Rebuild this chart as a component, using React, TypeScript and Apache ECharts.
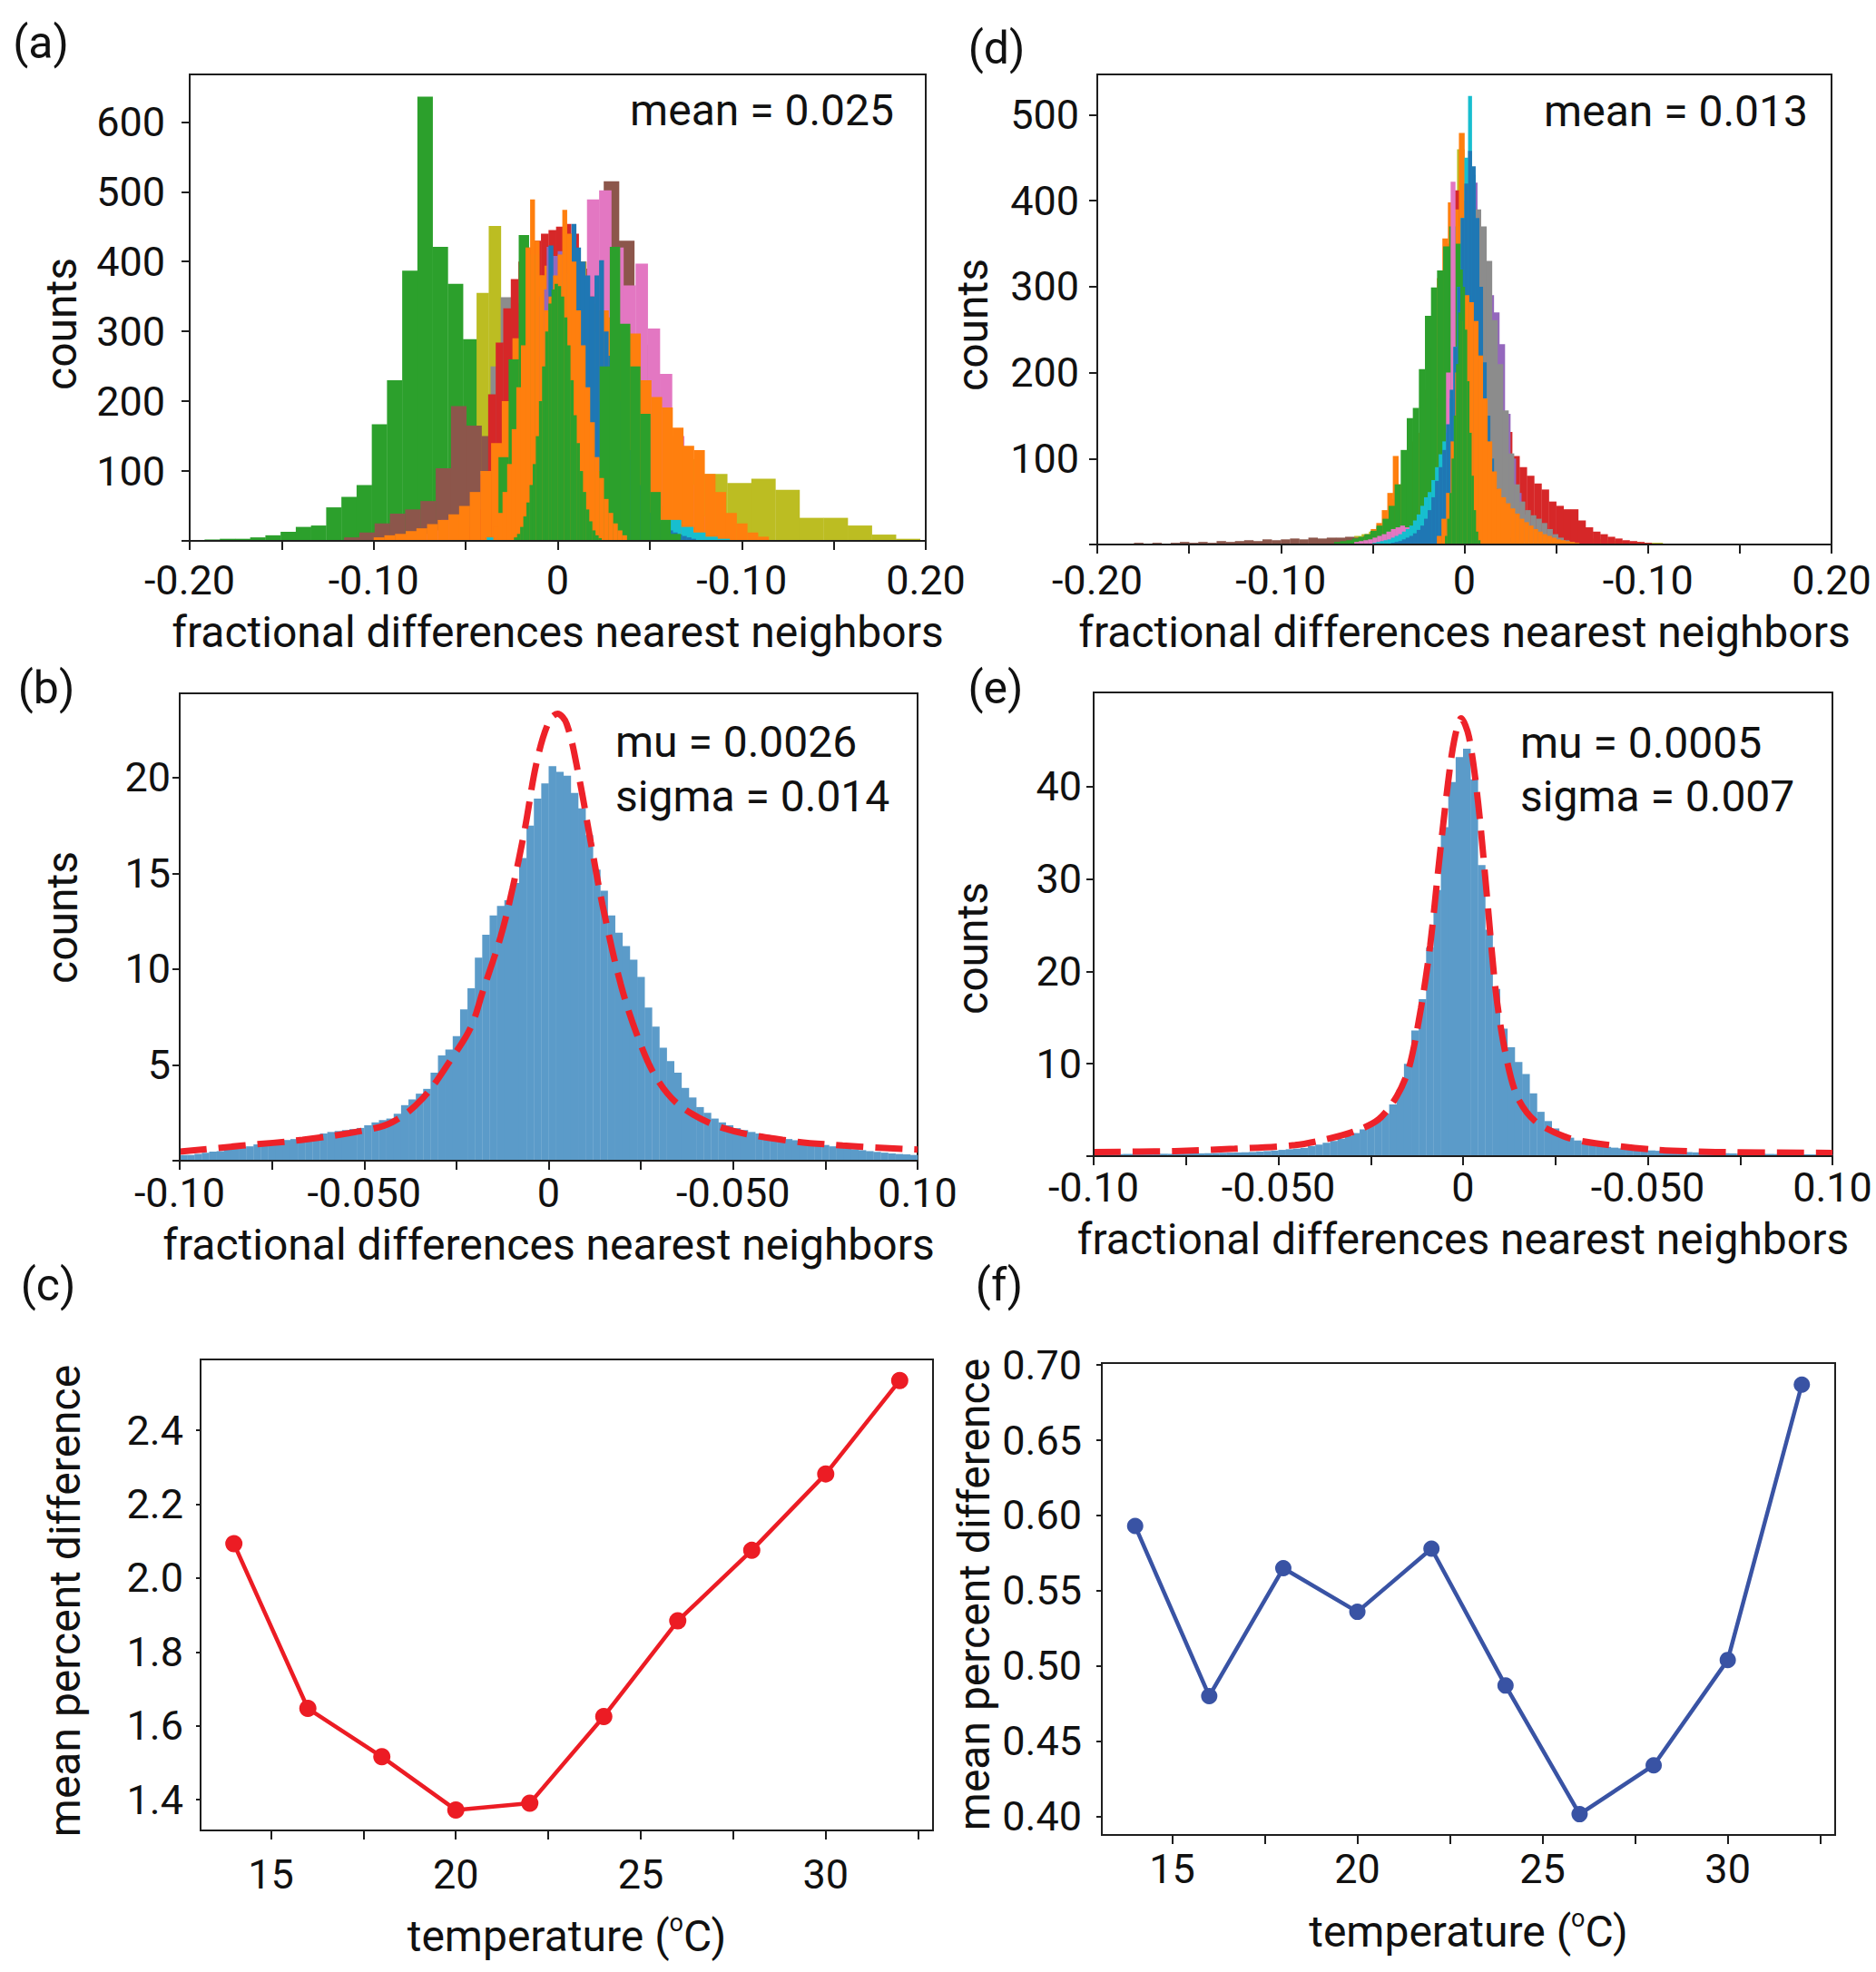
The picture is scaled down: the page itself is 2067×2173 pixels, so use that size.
import { useEffect, useRef } from 'react';
import * as echarts from 'echarts';

const FONT = 'Roboto, "Open Sans", sans-serif';
const INK = '#111111';
const SPINE = '#1e1e1e';

// matplotlib tab10-like colours
const TAB = {
  blue: '#1f77b4',
  orange: '#ff7f0e',
  green: '#2ca02c',
  red: '#d62728',
  purple: '#9467bd',
  brown: '#8c564b',
  pink: '#e377c2',
  gray: '#8c8c8c',
  olive: '#bcbd22',
  cyan: '#17becf',
};

// ---------- panel (a): overlapping histograms (bin start, bin width, counts) ----------
const aOliveWide = { start: -0.052, width: 0.0131, counts: [30, 80, 150, 200, 220, 210, 180, 150, 125, 117, 96, 83, 89, 73, 33, 33, 22, 9, 3] };
const aGreenWide = { start: -0.1919, width: 0.00826, counts: [2, 3, 3, 5, 8, 13, 20, 22, 48, 63, 80, 167, 230, 387, 636, 421, 368, 289, 200, 150, 110, 70, 40, 20, 10] };
const aOliveLeft = { start: -0.0507, width: 0.0066, counts: [60, 355, 451, 250, 200, 150, 100, 60, 30, 10] };
const aBrown = { start: -0.1161, width: 0.0083, counts: [5, 12, 25, 39, 45, 57, 104, 193, 165, 150, 170, 210, 260, 320, 360, 390, 400, 515, 430, 281, 160, 80, 40, 15, 5] };
const aPink = { start: -0.0831, width: 0.0066, counts: [5, 10, 15, 30, 20, 12, 20, 40, 70, 110, 150, 200, 250, 280, 300, 489, 502, 420, 366, 397, 304, 239, 150, 80, 35, 12] };
const aGray = { start: -0.0585, width: 0.0055, counts: [5, 15, 40, 100, 250, 349, 340, 330, 320, 320, 330, 340, 330, 320, 300, 264, 219, 161, 120, 80, 50, 30, 15, 8] };
const aRed = { start: -0.0501, width: 0.0041, counts: [20, 45, 95, 210, 284, 333, 375, 400, 420, 430, 440, 445, 450, 454, 440, 400, 350, 300, 240, 180, 130, 90, 60, 35, 20, 10] };
const aOrangeWide = { start: -0.1, width: 0.0058, counts: [5, 8, 10, 14, 18, 24, 30, 38, 50, 70, 100, 140, 200, 290, 402, 380, 394, 390, 370, 350, 340, 330, 320, 310, 297, 230, 206, 191, 162, 136, 130, 96, 70, 40, 25, 12, 6] };
const aOliveMid = { start: -0.0177, width: 0.0066, counts: [250, 319, 300, 260, 400, 300, 200, 128, 80, 50, 25, 10] };
const aPurple = { start: -0.03, width: 0.003, counts: [20, 60, 120, 200, 280, 372, 350, 360, 421, 408, 415, 383, 350, 300, 250, 190, 130, 80, 40, 20] };
const aCyan = { start: -0.0386, width: 0.0066, counts: [5, 10, 20, 40, 80, 150, 372, 330, 250, 200, 150, 100, 60, 40, 30, 30, 20, 12, 6, 3] };
const aBlue = { start: -0.02, width: 0.0025, counts: [5, 15, 40, 90, 150, 220, 423, 300, 320, 360, 400, 454, 420, 400, 380, 350, 380, 402, 300, 265, 240, 200, 165, 130, 100, 80, 62, 50, 40, 32, 25, 20, 15, 12, 9, 7, 5, 3] };
const aGreenMid = { start: -0.0322, width: 0.0055, counts: [120, 260, 438, 410, 200, 150, 120, 100, 90, 100, 250, 421, 311, 250, 182, 70, 30, 10] };
const aOrangeNarrow = { start: -0.035, width: 0.0025, counts: [20, 40, 70, 110, 160, 220, 280, 420, 489, 430, 380, 330, 350, 380, 410, 474, 440, 400, 330, 280, 220, 170, 120, 90, 60, 40, 25, 15, 8] };
const aGreenNarrow = { start: -0.0238, width: 0.0017, counts: [5, 10, 20, 35, 55, 80, 110, 150, 200, 250, 300, 340, 360, 368, 365, 350, 320, 280, 230, 180, 140, 100, 70, 45, 28, 15, 8, 4] };

// ---------- panel (d) ----------
const dOlive = { start: -0.08, width: 0.004, counts: [3, 4, 5, 6, 8, 10, 12, 15, 20, 30, 53, 45, 40, 50, 70, 100, 150, 230, 330, 460, 300, 180, 110, 70, 45, 30, 25, 20, 18, 16, 15, 14, 13, 12, 10, 9, 8, 7, 6, 5, 4, 4, 3, 3, 2, 2, 2, 1, 1, 1, 1, 1, 1, 1, 1, 1, 1, 1] };
const dBrown = { start: -0.19, width: 0.005, counts: [1, 1, 2, 1, 2, 1, 2, 3, 2, 3, 2, 4, 3, 4, 5, 4, 6, 5, 6, 7, 6, 8, 7, 8, 8, 9, 8, 10, 9, 10, 10, 9, 8, 7, 6, 5, 4, 3, 2, 1] };
const dRed = { start: -0.062, width: 0.004, counts: [3, 4, 5, 7, 10, 14, 20, 30, 45, 70, 110, 170, 260, 350, 412, 400, 360, 300, 240, 190, 150, 131, 103, 90, 80, 71, 64, 50, 45, 41, 41, 28, 20, 15, 12, 9, 7, 5, 4, 3, 2] };
const dPurple = { start: -0.02, width: 0.003, counts: [20, 50, 100, 170, 250, 320, 380, 400, 421, 356, 320, 290, 270, 233, 152, 100, 60, 35, 20, 10, 5] };
const dGray = { start: -0.03, width: 0.003, counts: [10, 20, 40, 70, 110, 160, 220, 290, 340, 370, 390, 394, 390, 370, 330, 261, 210, 156, 106, 70, 50, 40, 34, 30, 25, 18, 12, 8, 5, 3] };
const dOrangeLeft = { start: -0.06, width: 0.003, counts: [5, 8, 12, 18, 25, 40, 60, 103, 70, 90, 120, 130, 180, 230, 280, 310, 356, 398, 390, 479, 300, 200, 150, 110, 80, 55, 35, 20, 10, 5] };
const dGreenWide = { start: -0.071, width: 0.0033, counts: [3, 4, 5, 7, 9, 12, 16, 22, 30, 45, 70, 110, 147, 159, 204, 266, 299, 319, 347, 370, 350, 250, 120, 50, 20, 8, 3] };
const dPink = { start: -0.06, width: 0.0025, counts: [3, 4, 5, 6, 8, 10, 12, 15, 18, 20, 22, 20, 18, 22, 25, 30, 35, 40, 50, 100, 200, 422, 150, 90, 60, 35, 20, 10, 6, 3, 2] };
const dCyan = { start: -0.05, width: 0.002, counts: [2, 3, 4, 5, 6, 8, 10, 12, 15, 18, 22, 28, 35, 45, 55, 61, 75, 90, 105, 120, 130, 170, 230, 300, 380, 450, 522, 430, 340, 250, 180, 120, 80, 50, 30, 18, 10, 5, 3] };
const dBlue = { start: -0.04, width: 0.002, counts: [2, 3, 4, 6, 8, 10, 13, 17, 22, 30, 40, 55, 74, 90, 110, 140, 180, 230, 300, 380, 420, 458, 440, 380, 300, 212, 150, 100, 65, 40, 25, 15, 8, 4, 2] };
const dOrangeRight = { start: -0.015, width: 0.0025, counts: [10, 30, 60, 120, 200, 260, 290, 282, 260, 220, 170, 120, 85, 65, 55, 48, 42, 36, 30, 26, 22, 18, 15, 12, 10, 8, 6, 5, 4, 3, 2] };
const dGreenNarrow = { start: -0.0106, width: 0.0012, counts: [10, 30, 60, 100, 150, 210, 270, 320, 300, 250, 190, 130, 80, 40, 15, 5] };

// ---------- panel (b) and (e): pooled histograms with fitted curves ----------
const bHist = {
  start: -0.1,
  width: 0.002,
  counts: [
    0.3, 0.3, 0.35, 0.42, 0.47, 0.5, 0.58, 0.62, 0.69, 0.75,
    0.85, 0.92, 0.99, 1.02, 1.08, 1.13, 1.17, 1.22, 1.32, 1.42,
    1.5, 1.55, 1.6, 1.65, 1.71, 1.85, 2.0, 2.12, 2.2, 2.45,
    2.9, 3.2, 3.5, 3.75, 4.6, 5.5, 5.8, 6.5, 7.9, 9.0,
    10.6, 11.8, 12.8, 13.3, 13.6, 14.5, 15.8, 17.5, 18.9, 19.7,
    20.6, 20.3, 20.1, 19.2, 18.4, 17.0, 15.2, 14.1, 12.8, 11.9,
    11.2, 10.5, 9.6, 8.0, 7.0, 5.9, 5.2, 4.6, 3.8, 3.3,
    2.8, 2.5, 2.2, 2.0, 1.85, 1.7, 1.6, 1.5, 1.42, 1.35,
    1.27, 1.2, 1.13, 1.07, 1.0, 0.95, 0.88, 0.82, 0.75, 0.69,
    0.65, 0.6, 0.55, 0.5, 0.46, 0.42, 0.38, 0.35, 0.33, 0.3,
  ],
};
const bFitX = [-0.1, -0.0829, -0.0667, -0.0504, -0.0423, -0.0341, -0.026, -0.0211, -0.0179, -0.013, -0.0098, -0.0065, -0.0033, 0, 0.0024, 0.0049, 0.0081, 0.0114, 0.0146, 0.0195, 0.0244, 0.0293, 0.0358, 0.0472, 0.0634, 0.0797, 0.1];
const bFitY = [0.47, 0.79, 1.09, 1.57, 2.02, 3.26, 5.42, 6.96, 8.81, 11.7, 14.2, 17.27, 20.76, 22.9, 23.33, 22.8, 20.15, 16.65, 13.35, 9.24, 6.34, 4.29, 2.84, 1.71, 1.09, 0.79, 0.58];

const eHist = {
  start: -0.1,
  width: 0.002,
  counts: [
    0.2, 0.2, 0.22, 0.22, 0.24, 0.24, 0.25, 0.25, 0.26, 0.26,
    0.25, 0.27, 0.28, 0.3, 0.3, 0.32, 0.34, 0.36, 0.38, 0.4,
    0.42, 0.45, 0.5, 0.55, 0.6, 0.68, 0.75, 0.82, 0.9, 1.1,
    1.25, 1.45, 1.65, 1.9, 2.2, 2.5, 2.9, 3.4, 3.9, 4.6,
    5.6, 7.2, 10.0, 13.6, 17.0, 22.6, 28.8, 35.6, 40.5, 43.2,
    44.1, 40.8, 31.5, 24.5, 18.1, 13.8, 11.8, 10.2, 8.9, 6.8,
    4.8, 3.8, 3.0, 2.4, 2.0, 1.7, 1.5, 1.25, 1.1, 1.0,
    0.92, 0.85, 0.78, 0.72, 0.66, 0.62, 0.58, 0.54, 0.5, 0.47,
    0.44, 0.41, 0.38, 0.36, 0.34, 0.32, 0.3, 0.28, 0.27, 0.26,
    0.25, 0.24, 0.23, 0.22, 0.21, 0.2, 0.2, 0.19, 0.18, 0.18,
  ],
};
const eFitX = [-0.1, -0.078, -0.0618, -0.0455, -0.0374, -0.0293, -0.0228, -0.0179, -0.0146, -0.0114, -0.0089, -0.0065, -0.0041, -0.0024, -0.0005, 0.0016, 0.0041, 0.0065, 0.0089, 0.0114, 0.0146, 0.0195, 0.0276, 0.0358, 0.052, 0.0683, 0.1];
const eFitY = [0.45, 0.55, 0.8, 1.2, 1.8, 2.7, 4.0, 6.5, 9.6, 16, 22.8, 31.8, 40.3, 45, 47.4, 45.4, 38.2, 28, 17.7, 11.3, 6.5, 3.8, 2.1, 1.4, 0.7, 0.45, 0.35];

// ---------- panel (c) and (f): mean percent difference vs temperature ----------
const temps = [14, 16, 18, 20, 22, 24, 26, 28, 30, 32];
const cMean = [2.093, 1.647, 1.516, 1.372, 1.39, 1.625, 1.884, 2.075, 2.282, 2.535];
const fMean = [0.593, 0.48, 0.565, 0.536, 0.578, 0.487, 0.4015, 0.434, 0.504, 0.687];

// ---------- ticks ----------
const wideTicks = [-0.2, -0.15, -0.1, -0.05, 0, 0.05, 0.1, 0.15, 0.2];
const wideLabelVals = [-0.2, -0.1, 0, 0.1, 0.2];
const wideLabelText = ['-0.20', '-0.10', '0', '-0.10', '0.20'];
const narrowTicks = [-0.1, -0.075, -0.05, -0.025, 0, 0.025, 0.05, 0.075, 0.1];
const narrowLabelVals = [-0.1, -0.05, 0, 0.05, 0.1];
const narrowLabelText = ['-0.10', '-0.050', '0', '-0.050', '0.10'];
const tempTicks = [15, 17.5, 20, 22.5, 25, 27.5, 30, 32.5];
const tempLabels = [15, 20, 25, 30];
const aCountTicks = [0, 100, 200, 300, 400, 500, 600];
const aCountLabels = [100, 200, 300, 400, 500, 600];
const dCountTicks = [0, 100, 200, 300, 400, 500];
const dCountLabels = [100, 200, 300, 400, 500];
const bCountTicks = [0, 5, 10, 15, 20];
const bCountLabels = [5, 10, 15, 20];
const eCountTicks = [0, 10, 20, 30, 40];
const eCountLabels = [10, 20, 30, 40];
const cYTicks = [1.4, 1.6, 1.8, 2.0, 2.2, 2.4];
const fYTicks = [0.4, 0.45, 0.5, 0.55, 0.6, 0.65, 0.7];

// grid boxes: a, b, c, d, e, f
const GRIDS = [
  { left: 209, top: 82, width: 811, height: 514 },
  { left: 198, top: 764, width: 813, height: 515 },
  { left: 221, top: 1498, width: 807, height: 519 },
  { left: 1209, top: 82, width: 809, height: 518 },
  { left: 1205, top: 763, width: 814, height: 511 },
  { left: 1214, top: 1502, width: 808, height: 520 },
];

type Hist = { start: number; width: number; counts: number[] };

const pick = (vals: number[], texts: string[]) => (v: number) => {
  let best = 0;
  vals.forEach((x, i) => {
    if (Math.abs(x - v) < Math.abs(vals[best] - v)) best = i;
  });
  return texts[best];
};

function histSeries(h: Hist, color: string, axisIndex: number) {
  const data = h.counts.map((c, i) => [h.start + i * h.width, h.start + (i + 1) * h.width, c]);
  return {
    type: 'custom',
    xAxisIndex: axisIndex,
    yAxisIndex: axisIndex,
    silent: true,
    encode: { x: [0, 1], y: 2 },
    data,
    renderItem: (_params: any, api: any) => {
      const p0 = api.coord([api.value(0), api.value(2)]);
      const p1 = api.coord([api.value(1), 0]);
      return {
        type: 'rect',
        shape: { x: p0[0], y: p0[1], width: p1[0] - p0[0] + 0.3, height: p1[1] - p0[1] },
        style: { fill: color },
      };
    },
  };
}

function xAxisOf(gridIndex: number, min: number, max: number, ticks: number[], labels: number[], fmt: any, name: any, nameGap: number, margin: number, rich?: any) {
  return {
    type: 'value',
    gridIndex,
    min,
    max,
    z: 5,
    axisLine: { show: true, onZero: false, lineStyle: { color: SPINE, width: 2 } },
    axisTick: { show: true, length: 10, lineStyle: { color: SPINE, width: 2 }, customValues: ticks },
    axisLabel: { show: true, customValues: labels, formatter: fmt, margin, color: INK, fontSize: 45, fontFamily: FONT },
    splitLine: { show: false },
    name,
    nameLocation: 'middle',
    nameGap,
    nameTextStyle: { color: INK, fontSize: 48, fontFamily: FONT, rich },
  };
}

function yAxisOf(gridIndex: number, min: number, max: number, ticks: number[], labels: number[], fmt: any, margin: number, tickLen: number) {
  return {
    type: 'value',
    gridIndex,
    min,
    max,
    z: 5,
    axisLine: { show: true, onZero: false, lineStyle: { color: SPINE, width: 2 } },
    axisTick: { show: true, length: tickLen, lineStyle: { color: SPINE, width: 2 }, customValues: ticks },
    axisLabel: { show: true, customValues: labels, formatter: fmt, margin, color: INK, fontSize: 45, fontFamily: FONT },
    splitLine: { show: false },
  };
}

const txt = (text: string, x: number, y: number, align = 'left', size = 48) => ({
  type: 'text',
  x,
  y,
  z: 10,
  style: { text, fill: INK, fontSize: size, fontFamily: FONT, align, verticalAlign: 'middle' },
});

const vtxt = (text: string, x: number, y: number) => ({
  type: 'text',
  x,
  y,
  rotation: Math.PI / 2,
  z: 10,
  style: { text, fill: INK, fontSize: 48, fontFamily: FONT, align: 'center', verticalAlign: 'middle' },
});

export default function App() {
  const ref = useRef<HTMLDivElement>(null);

  useEffect(() => {
    if (!ref.current) return;
    const chart = echarts.init(ref.current, undefined, { renderer: 'svg' });

    const wideFmt = pick(wideLabelVals, wideLabelText);
    const narrowFmt = pick(narrowLabelVals, narrowLabelText);
    const intFmt = (v: number) => String(Math.round(v));
    const oneDec = (v: number) => v.toFixed(1);
    const twoDec = (v: number) => v.toFixed(2);
    const xTitle = 'fractional differences nearest neighbors';
    const tempTitle = '{n|temperature (}{s|o}{n|C)}';
    const tempRich = {
      n: { fontSize: 48, fontFamily: FONT, color: INK, lineHeight: 56 },
      s: { fontSize: 27, fontFamily: FONT, color: INK, lineHeight: 56, verticalAlign: 'top', padding: [0, 0, 18, 0] },
    };

    const redLine = '#ee2229';
    const histBlue = '#5b9bc9';

    const seriesA = [
      [aOliveWide, TAB.olive], [aGreenWide, TAB.green], [aOliveLeft, TAB.olive], [aBrown, TAB.brown],
      [aPink, TAB.pink], [aGray, TAB.gray], [aRed, TAB.red], [aOrangeWide, TAB.orange],
      [aOliveMid, TAB.olive], [aPurple, TAB.purple], [aCyan, TAB.cyan], [aBlue, TAB.blue],
      [aGreenMid, TAB.green], [aOrangeNarrow, TAB.orange], [aGreenNarrow, TAB.green],
    ].map(([h, c]) => histSeries(h as Hist, c as string, 0));

    const seriesD = [
      [dOlive, TAB.olive], [dBrown, TAB.brown], [dRed, TAB.red], [dPurple, TAB.purple],
      [dGray, TAB.gray], [dOrangeLeft, TAB.orange], [dGreenWide, TAB.green], [dPink, TAB.pink],
      [dCyan, TAB.cyan], [dBlue, TAB.blue], [dOrangeRight, TAB.orange], [dGreenNarrow, TAB.green],
    ].map(([h, c]) => histSeries(h as Hist, c as string, 3));

    chart.setOption({
      animation: false,
      backgroundColor: '#ffffff',
      grid: GRIDS.map((g) => ({ ...g, show: true, borderColor: SPINE, borderWidth: 2, containLabel: false })),
      xAxis: [
        xAxisOf(0, -0.2, 0.2, wideTicks, wideLabelVals, wideFmt, xTitle, 76, 21),
        xAxisOf(1, -0.1, 0.1, narrowTicks, narrowLabelVals, narrowFmt, xTitle, 68, 13),
        xAxisOf(2, 13.1, 32.9, tempTicks, tempLabels, intFmt, tempTitle, 88, 26, tempRich),
        xAxisOf(3, -0.2, 0.2, wideTicks, wideLabelVals, wideFmt, xTitle, 72, 17),
        xAxisOf(4, -0.1, 0.1, narrowTicks, narrowLabelVals, narrowFmt, xTitle, 67, 12),
        xAxisOf(5, 13.1, 32.9, tempTicks, tempLabels, intFmt, tempTitle, 78, 15, tempRich),
      ],
      yAxis: [
        yAxisOf(0, 0, 668, aCountTicks, aCountLabels, intFmt, 27, 9),
        yAxisOf(1, 0, 24.4, bCountTicks, bCountLabels, intFmt, 10, 8),
        yAxisOf(2, 1.3165, 2.592, cYTicks, cYTicks, oneDec, 19, 5),
        yAxisOf(3, 0, 547, dCountTicks, dCountLabels, intFmt, 20, 9),
        yAxisOf(4, 0, 50.2, eCountTicks, eCountLabels, intFmt, 13, 8),
        yAxisOf(5, 0.3877, 0.7013, fYTicks, fYTicks, twoDec, 22, 6),
      ],
      series: [
        ...seriesA,
        histSeries(bHist, histBlue, 1),
        {
          type: 'line',
          xAxisIndex: 1,
          yAxisIndex: 1,
          data: bFitX.map((x, i) => [x, bFitY[i]]),
          smooth: 0.35,
          showSymbol: false,
          silent: true,
          z: 4,
          lineStyle: { color: redLine, width: 7, type: [30, 13] },
        },
        {
          type: 'line',
          xAxisIndex: 2,
          yAxisIndex: 2,
          data: temps.map((t, i) => [t, cMean[i]]),
          symbol: 'circle',
          symbolSize: 19,
          lineStyle: { color: '#ec1c24', width: 4.5 },
          itemStyle: { color: '#ec1c24' },
        },
        ...seriesD,
        histSeries(eHist, histBlue, 4),
        {
          type: 'line',
          xAxisIndex: 4,
          yAxisIndex: 4,
          data: eFitX.map((x, i) => [x, eFitY[i]]),
          smooth: 0.3,
          showSymbol: false,
          silent: true,
          z: 4,
          lineStyle: { color: redLine, width: 7, type: [30, 13] },
        },
        {
          type: 'line',
          xAxisIndex: 5,
          yAxisIndex: 5,
          data: temps.map((t, i) => [t, fMean[i]]),
          symbol: 'circle',
          symbolSize: 18,
          lineStyle: { color: '#3953a4', width: 4.5 },
          itemStyle: { color: '#3953a4' },
        },
      ],
      graphic: [
        txt('(a)', 45, 47, 'center', 50),
        txt('(b)', 51, 758, 'center', 50),
        txt('(c)', 53, 1416, 'center', 50),
        txt('(d)', 1098, 53, 'center', 50),
        txt('(e)', 1097, 758, 'center', 50),
        txt('(f)', 1101, 1416, 'center', 50),
        txt('mean = 0.025', 985, 121, 'right'),
        txt('mean = 0.013', 1992, 122, 'right'),
        txt('mu = 0.0026', 678, 817),
        txt('sigma = 0.014', 678, 877),
        txt('mu = 0.0005', 1675, 818),
        txt('sigma = 0.007', 1675, 877),
        vtxt('counts', 67, 357),
        vtxt('counts', 68, 1011),
        vtxt('mean percent difference', 71, 1764),
        vtxt('counts', 1071, 358),
        vtxt('counts', 1071, 1045),
        vtxt('mean percent difference', 1073, 1757),
      ],
    });

    return () => chart.dispose();
  }, []);

  return (
    <div
      ref={ref}
      style={{ position: 'absolute', left: 0, top: 0, width: 2067, height: 2173, background: '#ffffff' }}
    />
  );
}
